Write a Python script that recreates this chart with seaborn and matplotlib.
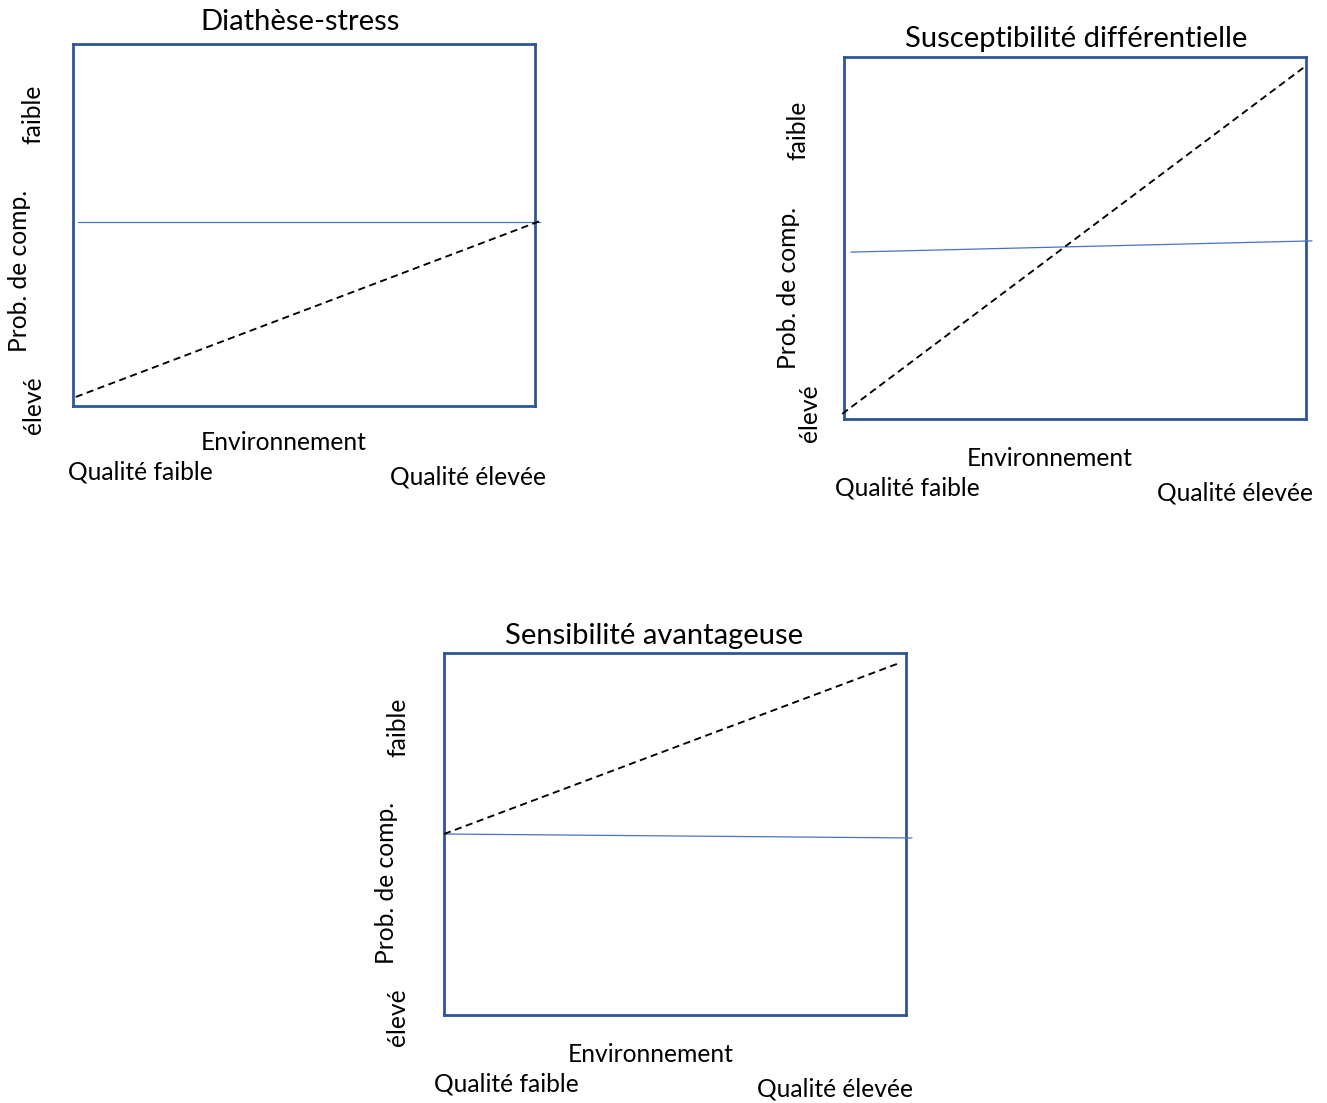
import matplotlib
matplotlib.use("Agg")
import matplotlib.pyplot as plt
import seaborn as sns
import pandas as pd

sns.set_theme(style="white")
plt.rcParams['font.family'] = ['Lato', 'DejaVu Sans']
plt.rcParams['text.color'] = 'black'

W, H = 1327, 1103

titles = ["Diathèse-stress", "Susceptibilité différentielle", "Sensibilité avantageuse"]
xlabel = "Environnement"
xlow, xhigh = "Qualité faible", "Qualité élevée"
ylow, ymid, yhigh = "élevé", "Prob. de comp.", "faible"

# environment (0 = box left, 1 = box right), behaviour (0 = box bottom, 1 = box top)
blue_x = [[0.011, 1.011], [0.015, 1.013], [0.0, 1.013]]
blue_y = [[0.508, 0.508], [0.461, 0.492], [0.500, 0.489]]
dash_x = [[0.006, 1.011], [-0.004, 0.994], [0.0, 0.985]]
dash_y = [[0.025, 0.511], [0.014, 0.970], [0.500, 0.972]]

# layout in pixels (left, top, right, bottom of box)
boxes = [(73, 44, 535, 406), (844, 57, 1306, 419), (444, 653, 906, 1015)]
title_pos = [(300, 22), (1076, 39), (654, 636)]
env_pos = [(284, 442), (1050, 458), (651, 1054)]
qf_pos = [(140, 472), (907, 488), (506, 1084)]
qe_pos = [(468, 477), (1235, 493), (835, 1089)]
yf_pos = [(33, 114), (798, 130), (398, 727)]
ym_pos = [(20, 271), (788, 288), (387, 883)]
ye_pos = [(33, 405), (810, 413), (398, 1017)]

fig = plt.figure(figsize=(W / 100, H / 100), dpi=100)

def fx(x):
    return x / W

def fy(y):
    return 1 - y / H

for i in range(3):
    l, t, r, b = boxes[i]
    ax = fig.add_axes([fx(l), fy(b), (r - l) / W, (b - t) / H])
    ax.set_xlim(0, 1)
    ax.set_ylim(0, 1)
    ax.set_xticks([])
    ax.set_yticks([])
    for s in ax.spines.values():
        s.set_visible(True)
        s.set_color("#2F5597")
        s.set_linewidth(2.0)
        s.set_zorder(1)
    dfb = pd.DataFrame({"env": blue_x[i], "comp": blue_y[i]})
    dfd = pd.DataFrame({"env": dash_x[i], "comp": dash_y[i]})
    sns.lineplot(data=dfb, x="env", y="comp", ax=ax, color="#4472C4", linewidth=0.9,
                 estimator=None, sort=False)
    sns.lineplot(data=dfd, x="env", y="comp", ax=ax, color="black", linewidth=1.35,
                 estimator=None, sort=False)
    lines = ax.get_lines()
    lines[1].set_dashes((3.8, 2.4))
    for ln in lines:
        ln.set_clip_on(False)
        ln.set_zorder(3)
    ax.set_xlabel("")
    ax.set_ylabel("")

    fs = 17.7
    kw = dict(ha="center", va="center", color="black")
    fig.text(fx(title_pos[i][0]), fy(title_pos[i][1]), titles[i], fontsize=21, **kw)
    fig.text(fx(env_pos[i][0]), fy(env_pos[i][1]), xlabel, fontsize=fs, **kw)
    fig.text(fx(qf_pos[i][0]), fy(qf_pos[i][1]), xlow, fontsize=fs, **kw)
    fig.text(fx(qe_pos[i][0]), fy(qe_pos[i][1]), xhigh, fontsize=fs, **kw)
    fig.text(fx(yf_pos[i][0]), fy(yf_pos[i][1]), yhigh, fontsize=fs, rotation=90, **kw)
    fig.text(fx(ym_pos[i][0]), fy(ym_pos[i][1]), ymid, fontsize=fs, rotation=90, **kw)
    fig.text(fx(ye_pos[i][0]), fy(ye_pos[i][1]), ylow, fontsize=fs, rotation=90, **kw)

fig.savefig("out.png", dpi=100, facecolor="white")
